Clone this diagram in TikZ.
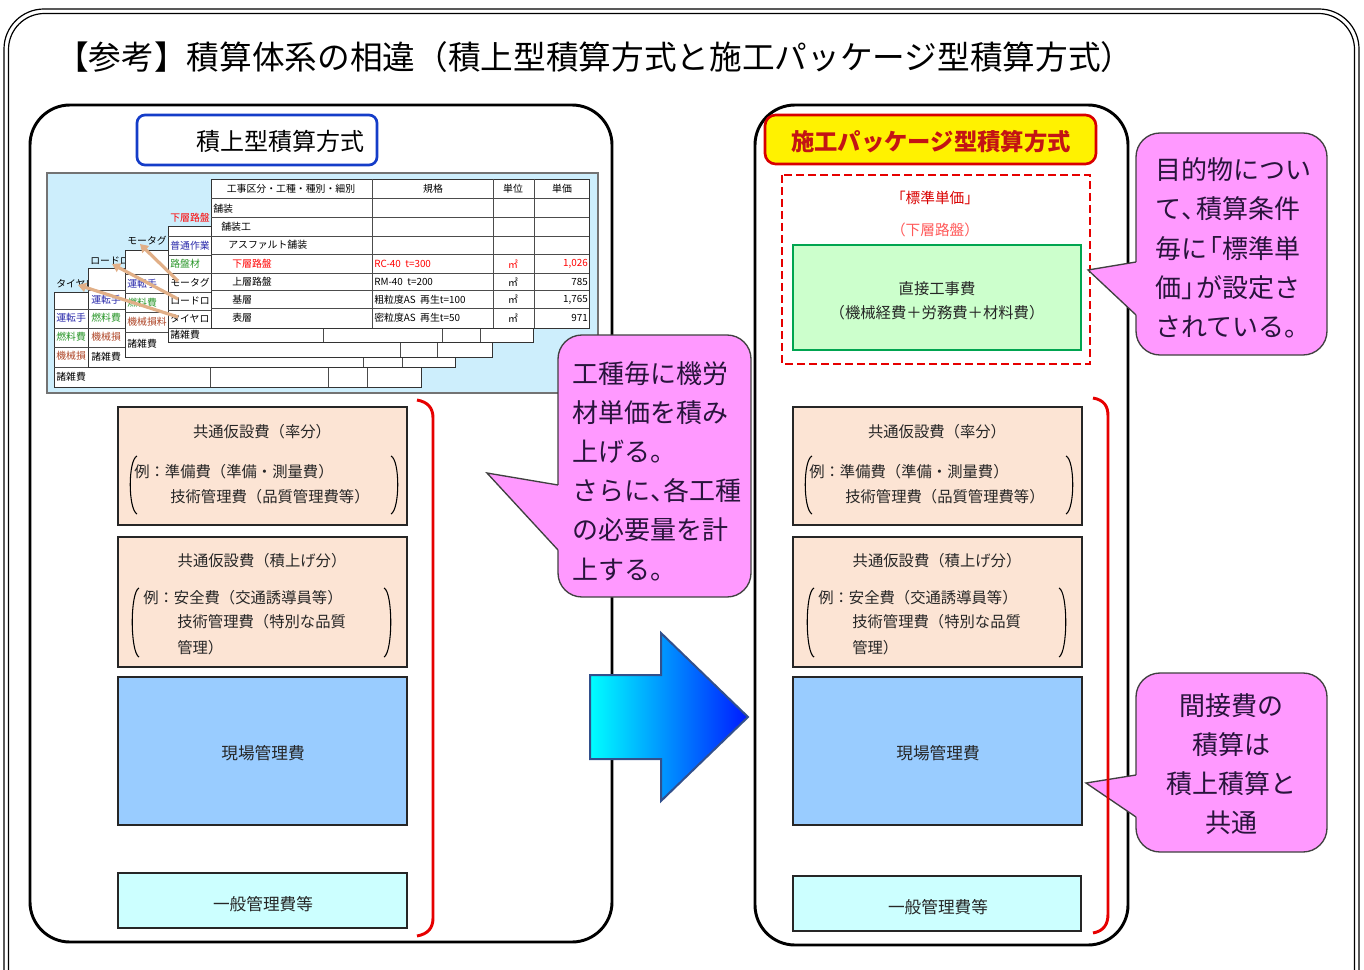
\documentclass[tikz,border=0pt]{standalone}
\usepackage{fontspec}
\setmainfont{Noto Sans CJK JP}
\usetikzlibrary{fit,arrows.meta}
\definecolor{peach}{RGB}{252,228,212}
\definecolor{mgmt}{RGB}{153,204,255}
\definecolor{gen}{RGB}{204,255,255}
\definecolor{pinkc}{RGB}{255,153,255}
\definecolor{calltext}{RGB}{40,20,60}
\definecolor{hdrred}{RGB}{195,20,20}
\definecolor{grnb}{RGB}{0,165,80}
\definecolor{grnf}{RGB}{204,255,204}
\definecolor{tblbg}{RGB}{205,238,252}
\definecolor{tblblue}{RGB}{40,40,170}
\definecolor{tblgreen}{RGB}{40,150,40}
\definecolor{tblbrown}{RGB}{175,70,40}
\definecolor{tanarr}{RGB}{225,175,135}
\definecolor{arrbord}{RGB}{50,80,140}
\definecolor{hdrblue}{RGB}{20,60,200}
\definecolor{brred}{RGB}{230,0,0}
\begin{document}
\begin{tikzpicture}[x=0.75pt,y=-0.75pt,
  cbox/.style={draw=black!85,line width=1.8pt,inner sep=0pt},
  btxt/.style={font=\fontsize{11.5}{13}\selectfont,text=black!85,inner sep=0pt},
  ttxt/.style={font=\fontsize{7.4}{8}\selectfont,inner sep=0pt,anchor=west},
  sheet/.style={draw=black!80,fill=white,line width=0.6pt},
  rline/.style={draw=black!70,line width=0.5pt},
  callout/.style={fill=pinkc,draw=black!75,line width=1pt,rounded corners=18pt,inner sep=0pt},
  cedge/.style={draw=black!75,line width=1pt},
  ctxt/.style={font=\fontsize{19.5}{29.4}\selectfont,text=calltext,inner sep=0pt},
  redbr/.style={draw=brred,line width=2.2pt},
  tanarrow/.style={draw=tanarr,line width=2.4pt,-{Triangle[length=6pt,width=7pt]}},
  panel/.style={draw=black,line width=2.2pt,rounded corners=30pt},
]
\useasboundingbox (0,0) rectangle (1364,970);
% outer double frame
\begin{scope}
\clip (0,0) rectangle (1364,970);
\draw[line width=0.9pt,rounded corners=30pt] (4,9) rectangle (1359,1010);
\draw[line width=0.9pt,rounded corners=27pt] (8.5,13.5) rectangle (1354.5,1010);
\end{scope}
% title
\node[anchor=west,inner sep=0pt,font=\fontsize{24.5}{28}\selectfont] (title) at (56,57)
  {【参考】積算体系の相違（積上型積算方式と施工パッケージ型積算方式）};
% panels
\draw[panel] (30,105) rectangle (612,942);
\draw[panel] (755,105) rectangle (1128,945);
% left header
\node[draw=hdrblue,line width=2pt,rounded corners=6pt,inner sep=0pt,fit={(137,115)(377,165)}] (lhdr) {};
\node[inner sep=0pt,font=\fontsize{18}{20}\selectfont] (lhdrt) at (280,141) {積上型積算方式};
% right header
\node[draw=red!85!black,fill=yellow,line width=2pt,rounded corners=8pt,inner sep=0pt,fit={(765,115)(1096,164)}] (rhdr) {};
\node[inner sep=0pt,font=\bfseries\fontsize{17.5}{20}\selectfont,text=hdrred] (rhdrt) at (931,142) {施工パッケージ型積算方式};

% ---------- table image ----------
\draw[draw=black!55,fill=tblbg,line width=0.8pt] (47,173) rectangle (598,393);
% sheet 5
\draw[sheet] (54,292) rectangle (421,387);
\foreach \y in {309,328,347,367} \draw[rline] (54,\y) -- (421,\y);
\foreach \x in {210,328,367} \draw[rline] (\x,367) -- (\x,387);
\node[ttxt] (s5lab) at (56,284) {タイヤロ};
\node[ttxt,text=tblblue] (s5a) at (56,318) {運転手};
\node[ttxt,text=tblgreen] (s5b) at (56,337) {燃料費};
\node[ttxt,text=tblbrown] (s5c) at (56,356) {機械損};
\node[ttxt] (s5d) at (56,377) {諸雑費};
% sheet 4
\draw[sheet] (88,268) rectangle (455,367);
\foreach \y in {290,309,328,347} \draw[rline] (88,\y) -- (455,\y);
\foreach \x in {363,402} \draw[rline] (\x,347) -- (\x,367);
\node[ttxt] (s4lab) at (90,261) {ロードロ};
\node[ttxt,text=tblblue] (s4a) at (91,300) {運転手};
\node[ttxt,text=tblgreen] (s4b) at (91,318) {燃料費};
\node[ttxt,text=tblbrown] (s4c) at (91,337) {機械損};
\node[ttxt] (s4d) at (91,357) {諸雑費};
% sheet 3
\draw[sheet] (125,250) rectangle (492,357);
\foreach \y in {274,293,312,332} \draw[rline] (125,\y) -- (492,\y);
\foreach \x in {400,437} \draw[rline] (\x,332) -- (\x,357);
\node[ttxt] (s3lab) at (127,241) {モータグ};
\node[ttxt,text=tblblue] (s3a) at (127,284) {運転手};
\node[ttxt,text=tblgreen] (s3b) at (127,303) {燃料費};
\node[ttxt,text=tblbrown] (s3c) at (127,322) {機械損料};
\node[ttxt] (s3d) at (127,344) {諸雑費};
% sheet 2
\draw[sheet] (168,226) rectangle (533,342);
\foreach \y in {236,255,273,292,310,328} \draw[rline] (168,\y) -- (533,\y);
\foreach \x in {323,442,480} \draw[rline] (\x,328) -- (\x,342);
\node[ttxt,text=red] (s2lab) at (170,218) {下層路盤};
\node[ttxt,text=tblblue] (s2a) at (170,245.5) {普通作業};
\node[ttxt,text=tblgreen] (s2b) at (170,264) {路盤材};
\node[ttxt] (s2c) at (170,282.5) {モータグ};
\node[ttxt] (s2d) at (170,301) {ロードロ};
\node[ttxt] (s2e) at (170,319) {タイヤロ};
\node[ttxt] (s2f) at (170,335) {諸雑費};
% link arrows
\coordinate (ta1s) at (178,281); \coordinate (ta1e) at (140,244);
\coordinate (ta2s) at (178,299); \coordinate (ta2e) at (112,264);
\coordinate (ta3s) at (178,317); \coordinate (ta3e) at (78,285);
\draw[tanarrow] (ta1s) -- (ta1e);
\draw[tanarrow] (ta2s) -- (ta2e);
\draw[tanarrow] (ta3s) -- (ta3e);
% main sheet
\draw[sheet] (211,179) rectangle (589,328);
\foreach \y in {198,217,236,254,273,290,308} \draw[rline] (211,\y) -- (589,\y);
\foreach \x in {372,493,534} \draw[rline] (\x,179) -- (\x,328);
\node[ttxt,anchor=center] (h1) at (291,189) {工事区分・工種・種別・細別};
\node[ttxt,anchor=center] (h2) at (433,189) {規格};
\node[ttxt,anchor=center] (h3) at (513,189) {単位};
\node[ttxt,anchor=center] (h4) at (562,189) {単価};
\node[ttxt] (r1) at (213,209) {舗装};
\node[ttxt] (r2) at (221,227) {舗装工};
\node[ttxt] (r3) at (228,245) {アスファルト舗装};
\node[ttxt,text=red] (r4) at (232,264) {下層路盤};
\node[ttxt] (r5) at (232,282) {上層路盤};
\node[ttxt] (r6) at (232,299.5) {基層};
\node[ttxt] (r7) at (232,318) {表層};
\node[ttxt,text=red] (k4) at (374,264) {RC-40\ \ t=300};
\node[ttxt] (k5) at (374,282) {RM-40\ \ t=200};
\node[ttxt] (k6) at (374,299.5) {粗粒度AS\ \ 再生t=100};
\node[ttxt] (k7) at (374,318) {密粒度AS\ \ 再生t=50};
\node[ttxt,anchor=center,text=red] (u4) at (513,264) {㎡};
\node[ttxt,anchor=center] (u5) at (513,282) {㎡};
\node[ttxt,anchor=center] (u6) at (513,299.5) {㎡};
\node[ttxt,anchor=center] (u7) at (513,318) {㎡};
\node[ttxt,anchor=east,text=red] (p4) at (588,264) {1,026};
\node[ttxt,anchor=east] (p5) at (588,282) {785};
\node[ttxt,anchor=east] (p6) at (588,299.5) {1,765};
\node[ttxt,anchor=east] (p7) at (588,318) {971};

% ---------- right top: standard unit price ----------
\draw[draw=brred,line width=2.2pt,dash pattern=on 6pt off 3pt] (782,175) rectangle (1090,364);
\node[inner sep=0pt,text=red!85!black,font=\fontsize{11}{13}\selectfont] (std) at (935,198) {「標準単価」};
\node[inner sep=0pt,text=red!65,font=\fontsize{11}{13}\selectfont] (stdsub) at (935,230) {（下層路盤）};
\node[draw=grnb,fill=grnf,line width=2.2pt,inner sep=0pt,fit={(793,245)(1081,350)}] (direct) {};
\node[btxt] (d1) at (937,289) {直接工事費};
\node[btxt] (d2) at (937,313) {（機械経費＋労務費＋材料費）};

% ---------- cost boxes (both columns) ----------
\foreach \dx/\s in {0/l,675/r}{
  \node[cbox,fill=peach,fit={(118+\dx,407)(407+\dx,525)}] (\s A) {};
  \node[cbox,fill=peach,fit={(118+\dx,537)(407+\dx,667)}] (\s B) {};
  \node[cbox,fill=mgmt,fit={(118+\dx,677)(407+\dx,825)}] (\s C) {};
  \node[btxt] (\s At) at (262+\dx,432) {共通仮設費（率分）};
  \node[btxt,anchor=west] (\s Au) at (134+\dx,472) {例：準備費（準備・測量費）};
  \node[btxt,anchor=west] (\s Av) at (170+\dx,497) {技術管理費（品質管理費等）};
  \draw[line width=0.8pt] (137+\dx,456) .. controls (128+\dx,460) and (128+\dx,509) .. (137+\dx,514);
  \draw[line width=0.8pt] (391+\dx,456) .. controls (400+\dx,460) and (400+\dx,509) .. (391+\dx,514);
  \node[btxt] (\s Bt) at (262+\dx,561) {共通仮設費（積上げ分）};
  \node[btxt,anchor=west] (\s Bu) at (143+\dx,598) {例：安全費（交通誘導員等）};
  \node[btxt,anchor=west] (\s Bv) at (177+\dx,622) {技術管理費（特別な品質};
  \node[btxt,anchor=west] (\s Bw) at (177+\dx,648) {管理）};
  \draw[line width=0.8pt] (139+\dx,588) .. controls (130+\dx,592) and (130+\dx,652) .. (139+\dx,657);
  \draw[line width=0.8pt] (384+\dx,588) .. controls (393+\dx,592) and (393+\dx,652) .. (384+\dx,657);
  \node[btxt,font=\fontsize{12.5}{14}\selectfont] (\s Ct) at (263+\dx,753) {現場管理費};
}
\node[cbox,fill=gen,fit={(118,873)(407,928)}] (lD) {};
\node[btxt,font=\fontsize{12.5}{14}\selectfont] (lDt) at (263,904) {一般管理費等};
\node[cbox,fill=gen,fit={(793,876)(1081,931)}] (rD) {};
\node[btxt,font=\fontsize{12.5}{14}\selectfont] (rDt) at (938,907) {一般管理費等};

% left red brace
\draw[redbr] (417,400) .. controls (428,402) and (433,408) .. (433,418) -- (433,918) .. controls (433,928) and (428,934) .. (417,936);

% ---------- big arrow ----------
\draw[left color=cyan,right color=blue!90!cyan,draw=arrbord,line width=1.5pt,line join=miter]
  (590,675) -- (661,675) -- (661,633) -- (748,717) -- (661,801) -- (661,759) -- (590,759) -- cycle;

% ---------- callouts ----------
% left
\node[callout,fit={(558,335)(751,597)}] (c1) {};
\coordinate (c1tip) at (487,473);
\coordinate (c1b1) at (558,485); \coordinate (c1b2) at (558,550);
\fill[pinkc] (c1tip) -- (c1b1) -- (570,485) -- (570,550) -- (c1b2) -- cycle;
\draw[cedge] (c1b1) -- (c1tip) -- (c1b2);
\node[ctxt,anchor=west,align=left] (c1t) at (572,471)
  {工種毎に機労\\材単価を積み\\上げる。\\さらに\makebox[0.5em][l]{、}各工種\\の必要量を計\\上する。};
% right top
\node[callout,fit={(1136,133)(1327,355)}] (c2) {};
\coordinate (c2tip) at (1088,270);
\coordinate (c2b1) at (1136,262); \coordinate (c2b2) at (1136,315);
\fill[pinkc] (c2tip) -- (c2b1) -- (1148,262) -- (1148,315) -- (c2b2) -- cycle;
\draw[cedge] (c2b1) -- (c2tip) -- (c2b2);
\node[ctxt,anchor=west,align=left] (c2t) at (1155,248)
  {目的物につい\\て\makebox[0.6em][l]{、}積算条件\\毎に\makebox[0.6em][r]{「}標準単\\価\makebox[0.6em][l]{」}が設定さ\\されている。};
% right bottom
\node[callout,fit={(1136,673)(1327,852)}] (c3) {};
\coordinate (c3tip) at (1086,783);
\coordinate (c3b1) at (1136,775); \coordinate (c3b2) at (1136,817);
\fill[pinkc] (c3tip) -- (c3b1) -- (1148,775) -- (1148,817) -- (c3b2) -- cycle;
\draw[cedge] (c3b1) -- (c3tip) -- (c3b2);
\node[ctxt,align=center] (c3t) at (1231,764) {間接費の\\積算は\\積上積算と\\共通};

% right red brace (on top of pointer)
\draw[redbr] (1093,398) .. controls (1104,400) and (1108,406) .. (1108,416) -- (1108,914) .. controls (1108,924) and (1104,931) .. (1093,933);
\end{tikzpicture}
\end{document}
